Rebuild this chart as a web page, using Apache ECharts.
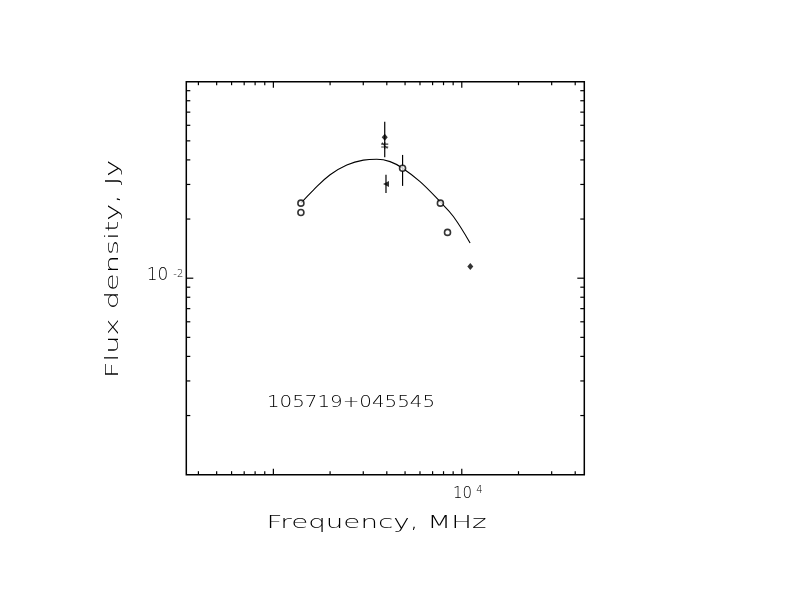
<!DOCTYPE html>
<html>
<head>
<meta charset="utf-8">
<script src="https://cdn.jsdelivr.net/npm/echarts@6/dist/echarts.min.js"></script>
<style>
html,body{margin:0;padding:0;background:#fff;}
#chart{width:792px;height:612px;}
</style>
</head>
<body>
<div id="chart"></div>
<script>
// ---- data (frequency in MHz, flux density in Jy) ----
const openCircles = [[1400, 0.0241], [1400, 0.0216], [4850, 0.0363], [7700, 0.0241], [8400, 0.0171]];
const diamonds = [[3900, 0.0522], [11100, 0.01146]];
const stars = [[3900, 0.0473]];
const triangles = [[3960, 0.0302]];
// error bars: [freq, low, high]
const errorBars = [[3900, 0.0413, 0.0626], [3960, 0.0271, 0.0336], [4850, 0.0295, 0.0424]];
// fitted spectrum
const fitCurve = [[1400, 0.0241], [1631, 0.0281], [2000, 0.0336], [2453, 0.0377], [3004, 0.0399],
  [3539, 0.0403], [4163, 0.0392], [4852, 0.0363], [6007, 0.0310], [7670, 0.0245], [9024, 0.0206], [11070, 0.0151]];
// axis ranges and ticks
const xRange = [345, 44700];
const yRange = [0.001, 0.1];
const xMajorTicks = [1000, 10000];
const xMinorTicks = [400, 500, 600, 700, 800, 900, 2000, 3000, 4000, 5000, 6000, 7000, 8000, 9000, 20000, 30000, 40000];
const yMajorTicks = [0.01];
const yMinorTicks = [0.002, 0.003, 0.004, 0.005, 0.006, 0.007, 0.008, 0.009, 0.02, 0.03, 0.04, 0.05, 0.06, 0.07, 0.08, 0.09];
const xTickLabelExp = [4];
const yTickLabelExp = [-2];
const xTitle = 'Frequency, MHz';
const yTitle = 'Flux density, Jy';
const sourceName = '105719+045545';

const FONT = "'DejaVu Sans', sans-serif";
const chart = echarts.init(document.getElementById('chart'), null, {renderer: 'canvas'});

function xTickSeries(values, len) {
  return {
    type: 'custom', silent: true, z: 1,
    data: values.map(v => [v, yRange[0]]),
    encode: {x: 0, y: 1},
    renderItem: function (params, api) {
      const cs = params.coordSys;
      const px = api.coord([api.value(0), yRange[0]])[0];
      const st = {stroke: '#000', lineWidth: 1.2};
      return {type: 'group', children: [
        {type: 'line', shape: {x1: px, y1: cs.y + cs.height, x2: px, y2: cs.y + cs.height - len}, style: st},
        {type: 'line', shape: {x1: px, y1: cs.y, x2: px, y2: cs.y + len}, style: st}
      ]};
    }
  };
}
function yTickSeries(values, len) {
  return {
    type: 'custom', silent: true, z: 1,
    data: values.map(v => [xRange[0], v]),
    encode: {x: 0, y: 1},
    renderItem: function (params, api) {
      const cs = params.coordSys;
      const py = api.coord([xRange[0], api.value(1)])[1];
      const st = {stroke: '#000', lineWidth: 1.2};
      return {type: 'group', children: [
        {type: 'line', shape: {x1: cs.x, y1: py, x2: cs.x + len, y2: py}, style: st},
        {type: 'line', shape: {x1: cs.x + cs.width, y1: py, x2: cs.x + cs.width - len, y2: py}, style: st}
      ]};
    }
  };
}

const option = {
  backgroundColor: '#fff',
  animation: false,
  grid: {left: 186.3, top: 81.7, width: 398, height: 393, show: true, borderColor: '#000', borderWidth: 1.5, backgroundColor: 'transparent'},
  xAxis: {
    type: 'log', logBase: 10, min: xRange[0], max: xRange[1],
    axisLine: {show: false}, axisTick: {show: false}, splitLine: {show: false}, minorTick: {show: false},
    axisLabel: {
      margin: 11,
      formatter: function (v) {
        const e = Math.round(Math.log10(v));
        return xTickLabelExp.includes(e) && Math.abs(Math.log10(v) - e) < 1e-6 ? '{p|}{b|10}{s|' + e + '}' : '';
      },
      rich: {
        p: {width: 12},
        b: {fontSize: 15, fontFamily: FONT, fontWeight: 200, color: '#000', lineHeight: 16},
        s: {fontSize: 10, fontFamily: FONT, fontWeight: 200, color: '#000', verticalAlign: 'top', padding: [0, 0, 0, 4]}
      }
    }
  },
  yAxis: {
    type: 'log', logBase: 10, min: yRange[0], max: yRange[1],
    axisLine: {show: false}, axisTick: {show: false}, splitLine: {show: false}, minorTick: {show: false},
    axisLabel: {
      margin: 3,
      formatter: function (v) {
        const e = Math.round(Math.log10(v));
        return yTickLabelExp.includes(e) && Math.abs(Math.log10(v) - e) < 1e-6 ? '{b|10}{s|' + e + '}' : '';
      },
      rich: {
        b: {fontSize: 17, fontFamily: FONT, fontWeight: 200, color: '#000', lineHeight: 18, padding: [0, 0, 5, 0]},
        s: {fontSize: 10, fontFamily: FONT, fontWeight: 200, color: '#000', verticalAlign: 'top', padding: [0, 0, 0, 5]}
      }
    }
  },
  graphic: [
    {type: 'text', x: 376.5, y: 523, scaleX: 1.54, style: {text: xTitle, font: '200 18px ' + FONT, fill: '#000', align: 'center', verticalAlign: 'middle'}},
    {type: 'text', x: 113, y: 269, rotation: Math.PI / 2, scaleX: 1.6, style: {text: yTitle, font: '200 18px ' + FONT, fill: '#000', align: 'center', verticalAlign: 'middle'}},
    {type: 'text', x: 351, y: 402.5, scaleX: 1.24, style: {text: sourceName, font: '200 16px ' + FONT, fill: '#000', align: 'center', verticalAlign: 'middle'}}
  ],
  series: [
    xTickSeries(xMajorTicks, 6),
    xTickSeries(xMinorTicks, 3.5),
    yTickSeries(yMajorTicks, 7),
    yTickSeries(yMinorTicks, 4),
    {
      type: 'line', data: fitCurve, smooth: 0.4, showSymbol: false, silent: true,
      lineStyle: {color: '#000', width: 1.1}, z: 2
    },
    {
      type: 'custom', data: errorBars, encode: {x: 0, y: [1, 2]}, silent: true, z: 3,
      renderItem: function (params, api) {
        const p1 = api.coord([api.value(0), api.value(1)]);
        const p2 = api.coord([api.value(0), api.value(2)]);
        return {type: 'line', shape: {x1: p1[0], y1: p1[1], x2: p2[0], y2: p2[1]}, style: {stroke: '#000', lineWidth: 1.2}};
      }
    },
    {type: 'scatter', data: openCircles, symbol: 'circle', symbolSize: 6, z: 4,
      itemStyle: {color: '#fff', borderColor: '#000', borderWidth: 1.6}},
    {type: 'scatter', data: diamonds, symbol: 'diamond', symbolSize: [6, 7], z: 4,
      itemStyle: {color: '#000'}},
    {type: 'scatter', data: stars, symbol: 'path://M0,-10L0,10M-10,-4L10,-4M-10,4L10,4M-8,-8L8,8', symbolSize: 7, z: 4,
      itemStyle: {color: 'none', borderColor: '#000', borderWidth: 1.2}},
    {type: 'scatter', data: triangles, symbol: 'triangle', symbolRotate: 90, symbolSize: 6, z: 4,
      itemStyle: {color: '#000'}}
  ]
};
chart.setOption(option);
</script>
</body>
</html>
